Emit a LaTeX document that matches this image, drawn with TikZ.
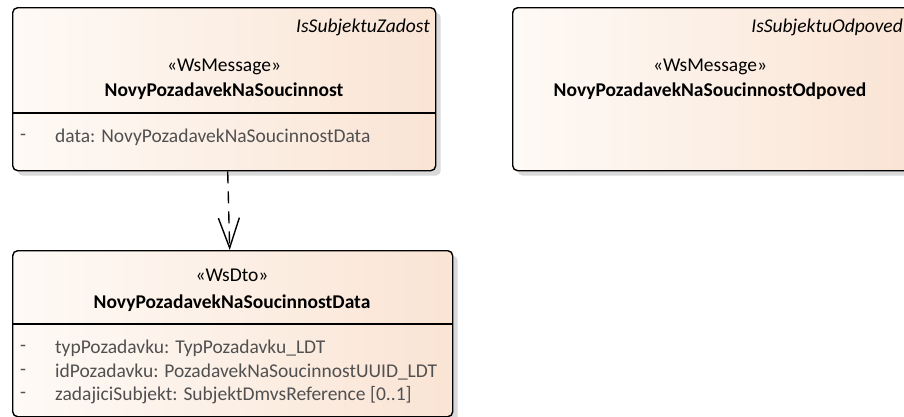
\documentclass[tikz,border=0pt]{standalone}
\usepackage{fontspec}
\setmainfont{Carlito}
\usetikzlibrary{arrows.meta,shadows}

\definecolor{umlLeft}{RGB}{254,250,246}
\definecolor{umlRight}{RGB}{250,228,212}
\definecolor{attrGray}{RGB}{80,80,80}
\newcommand{\umlfont}{\fontsize{19.5}{23}\selectfont}

\tikzset{
  umlbox/.style={rectangle, draw=black, line width=1.4pt, rounded corners=5pt,
    left color=umlLeft, right color=umlRight, inner sep=0pt, anchor=north west,
    drop shadow={shadow xshift=5pt, shadow yshift=-5pt, fill=black!15, opacity=1}},
  tag/.style={font=\umlfont\itshape, anchor=east, inner sep=0pt},
  stereo/.style={font=\umlfont, inner sep=0pt},
  clsname/.style={font=\umlfont\bfseries, inner sep=0pt},
  attr/.style={font=\umlfont, text=attrGray, anchor=west, inner sep=0pt},
  vis/.style={font=\umlfont, text=attrGray, inner sep=0pt},
  dep/.style={line width=1.4pt, dash pattern=on 12pt off 8pt,
    -{Straight Barb[length=30pt, width=21pt, line width=1.4pt]}}
}

\begin{document}
\begin{tikzpicture}[x=1pt, y=-1pt]
  \useasboundingbox (0,0) rectangle (904,416);
  \clip (0,0) rectangle (904,416);

  % zprava - pozadavek
  \node[umlbox, minimum width=423pt, minimum height=163pt] (zadost) at (12,7) {};
  \node[tag] (zadostTag) at (430,27) {IsSubjektuZadost};
  \node[stereo] (zadostSt) at (224,67) {«WsMessage»};
  \node[clsname] (zadostName) at (224,91) {NovyPozadavekNaSoucinnost};
  \draw[line width=1.4pt] (12,113) -- (435,113);
  \node[vis] at (23,137) {-};
  \node[attr] (zadostA1) at (55,137) {data: NovyPozadavekNaSoucinnostData};

  % zprava - odpoved
  \node[umlbox, minimum width=396pt, minimum height=163pt] (odpoved) at (512,7) {};
  \node[tag] (odpovedTag) at (903,27) {IsSubjektuOdpoved};
  \node[stereo] (odpovedSt) at (710,67) {«WsMessage»};
  \node[clsname] (odpovedName) at (710,91) {NovyPozadavekNaSoucinnostOdpoved};

  % datovy objekt
  \node[umlbox, minimum width=440pt, minimum height=166pt] (data) at (12,250) {};
  \node[stereo] (dataSt) at (232,275) {«WsDto»};
  \node[clsname] (dataName) at (232,303) {NovyPozadavekNaSoucinnostData};
  \draw[line width=1.4pt] (12,324) -- (452,324);
  \node[vis] at (23,348) {-};
  \node[attr] (dataA1) at (55,348) {typPozadavku: TypPozadavku\_LDT};
  \node[vis] at (23,372) {-};
  \node[attr] (dataA2) at (55,372) {idPozadavku: PozadavekNaSoucinnostUUID\_LDT};
  \node[vis] at (23,395) {-};
  \node[attr] (dataA3) at (55,395) {zadajiciSubjekt: SubjektDmvsReference [0..1]};

  \draw[dep] ([xshift=3.5pt]zadost.south) -- ([xshift=-3pt]data.north); % zavislost
\end{tikzpicture}
\end{document}
